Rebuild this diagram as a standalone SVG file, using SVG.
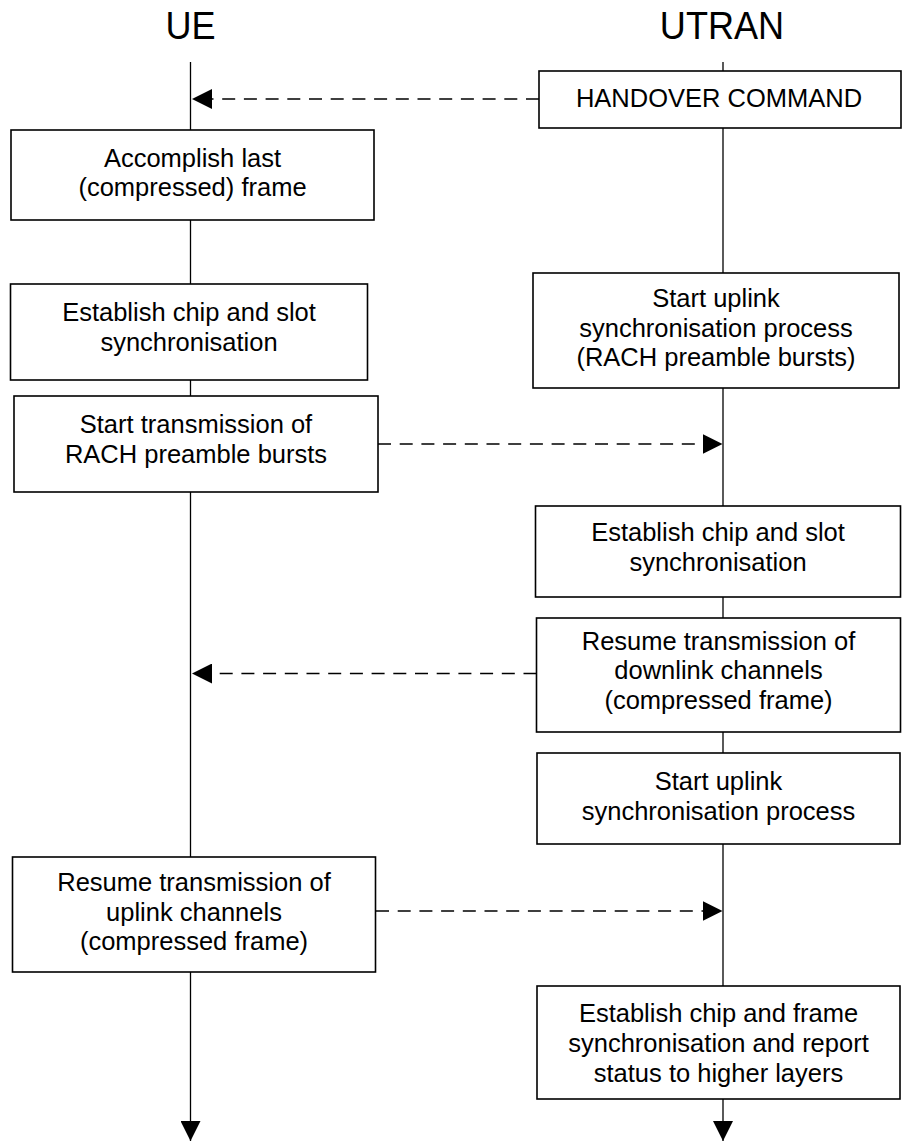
<svg xmlns="http://www.w3.org/2000/svg" width="905" height="1142" viewBox="0 0 905 1142">
<style>
.box{fill:#fff;stroke:#000;stroke-width:1.6}
.life{stroke:#000;stroke-width:1.3;fill:none}
.msg{stroke:#000;stroke-width:1.6;stroke-dasharray:13 8.7;fill:none}
.t{font-family:"Liberation Sans",Arial,sans-serif;font-size:25.5px;text-anchor:middle;fill:#000}
.h{font-family:"Liberation Sans",Arial,sans-serif;font-size:38px;text-anchor:middle;fill:#000}
</style>
<defs>
<marker id="ah" viewBox="0 0 20 20" refX="20" refY="10" markerWidth="20" markerHeight="20" markerUnits="userSpaceOnUse" orient="auto">
<path d="M0,0 L20,10 L0,20 z" fill="#000"/>
</marker>
</defs>
<g id="titles">
<text class="h" transform="translate(190.5 0) scale(0.95 1)" x="0" y="39.3">UE</text>
<text class="h" transform="translate(722 0) scale(0.95 1)" x="0" y="39.3">UTRAN</text>
</g>
<g id="connectors">
<line class="life" x1="190.5" y1="62" x2="190.5" y2="1141" marker-end="url(#ah)"/>
<line class="life" x1="723" y1="62" x2="723" y2="1141" marker-end="url(#ah)"/>
<line class="msg" x1="539" y1="99" x2="192" y2="99" marker-end="url(#ah)"/>
<line class="msg" x1="378" y1="444" x2="722.5" y2="444" marker-end="url(#ah)"/>
<line class="msg" x1="536.5" y1="673.5" x2="192" y2="673.5" marker-end="url(#ah)"/>
<line class="msg" x1="376" y1="911" x2="722.5" y2="911" marker-end="url(#ah)"/>
</g>
<g id="n1">
<rect class="box" x="539" y="71" width="362" height="57"/>
<text class="t" x="719" y="107">HANDOVER COMMAND</text>
</g>
<g id="n2">
<rect class="box" x="11" y="130" width="363" height="90"/>
<text class="t"><tspan x="192.5" y="167">Accomplish last</tspan><tspan x="192.5" y="196">(compressed) frame</tspan></text>
</g>
<g id="n3">
<rect class="box" x="10.5" y="284" width="357" height="96"/>
<text class="t"><tspan x="189" y="321">Establish chip and slot</tspan><tspan x="189" y="351">synchronisation</tspan></text>
</g>
<g id="n4">
<rect class="box" x="533" y="273" width="366" height="115"/>
<text class="t"><tspan x="716" y="306.5">Start uplink</tspan><tspan x="716" y="336.5">synchronisation process</tspan><tspan x="716" y="366">(RACH preamble bursts)</tspan></text>
</g>
<g id="n5">
<rect class="box" x="14" y="396" width="364" height="96"/>
<text class="t"><tspan x="196" y="433">Start transmission of</tspan><tspan x="196" y="463">RACH preamble bursts</tspan></text>
</g>
<g id="n6">
<rect class="box" x="535.5" y="506" width="365" height="91"/>
<text class="t"><tspan x="718" y="541">Establish chip and slot</tspan><tspan x="718" y="571">synchronisation</tspan></text>
</g>
<g id="n7">
<rect class="box" x="536.5" y="618" width="364" height="114"/>
<text class="t"><tspan x="718.5" y="649.5">Resume transmission of</tspan><tspan x="718.5" y="679">downlink channels</tspan><tspan x="718.5" y="708.5">(compressed frame)</tspan></text>
</g>
<g id="n8">
<rect class="box" x="537" y="753" width="363" height="91"/>
<text class="t"><tspan x="718.5" y="789.5">Start uplink</tspan><tspan x="718.5" y="819.5">synchronisation process</tspan></text>
</g>
<g id="n9">
<rect class="box" x="12.5" y="857" width="363" height="115"/>
<text class="t"><tspan x="194" y="891">Resume transmission of</tspan><tspan x="194" y="920.5">uplink channels</tspan><tspan x="194" y="950">(compressed frame)</tspan></text>
</g>
<g id="n10">
<rect class="box" x="537" y="986" width="363" height="113"/>
<text class="t"><tspan x="718.5" y="1021.5">Establish chip and frame</tspan><tspan x="718.5" y="1051.5">synchronisation and report</tspan><tspan x="718.5" y="1081.5">status to higher layers</tspan></text>
</g>
</svg>
